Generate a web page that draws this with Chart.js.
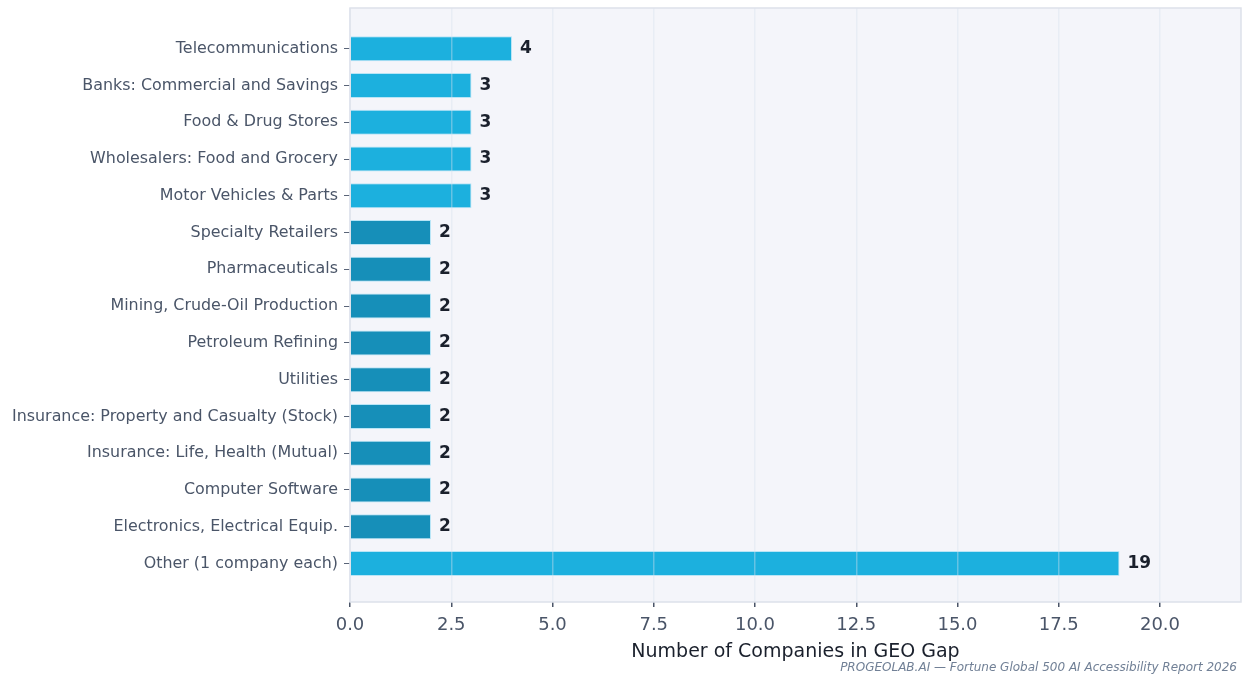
<!DOCTYPE html>
<html>
<head>
<meta charset="utf-8">
<script src="https://cdn.jsdelivr.net/npm/chart.js@4.4.1/dist/chart.umd.min.js"></script>
<style>
  html, body { margin: 0; padding: 0; background: #ffffff; }
</style>
</head>
<body>
<canvas id="gap-chart" width="1245" height="677"></canvas>
<script>
const industries = [
  'Telecommunications',
  'Banks: Commercial and Savings',
  'Food & Drug Stores',
  'Wholesalers: Food and Grocery',
  'Motor Vehicles & Parts',
  'Specialty Retailers',
  'Pharmaceuticals',
  'Mining, Crude-Oil Production',
  'Petroleum Refining',
  'Utilities',
  'Insurance: Property and Casualty (Stock)',
  'Insurance: Life, Health (Mutual)',
  'Computer Software',
  'Electronics, Electrical Equip.',
  'Other (1 company each)',
];
const gapCounts = [4, 3, 3, 3, 3, 2, 2, 2, 2, 2, 2, 2, 2, 2, 19];
const xTickValues = [0, 2.5, 5, 7.5, 10, 12.5, 15, 17.5, 20];

const BRIGHT = '#1cb0de';
const DARK = '#168fb9';
const FONT = "'DejaVu Sans', sans-serif";

const plotFrame = {
  id: 'plotFrame',
  beforeDraw(chart) {
    const { ctx, chartArea: a } = chart;
    ctx.save();
    ctx.fillStyle = '#ffffff';
    ctx.fillRect(0, 0, chart.width, chart.height);
    ctx.fillStyle = '#f4f5fa';
    ctx.fillRect(a.left, a.top, a.right - a.left, a.bottom - a.top);
    ctx.restore();
  },
  afterDraw(chart) {
    const { ctx, chartArea: a } = chart;
    ctx.save();
    ctx.strokeStyle = '#dde1ea';
    ctx.lineWidth = 1.5;
    ctx.strokeRect(a.left, a.top, a.right - a.left, a.bottom - a.top);
    // report footer
    ctx.fillStyle = '#718096';
    ctx.font = `italic 12px ${FONT}`;
    ctx.textAlign = 'right';
    ctx.textBaseline = 'alphabetic';
    ctx.fillText('PROGEOLAB.AI \u2014 Fortune Global 500 AI Accessibility Report 2026', 1237, 671);
    ctx.restore();
  },
};

const valueLabels = {
  id: 'valueLabels',
  afterDraw(chart) {
    const { ctx } = chart;
    const meta = chart.getDatasetMeta(0);
    ctx.save();
    ctx.fillStyle = '#1a202c';
    ctx.font = `bold 17px ${FONT}`;
    ctx.textAlign = 'left';
    ctx.textBaseline = 'middle';
    meta.data.forEach((bar, i) => {
      ctx.fillText(String(gapCounts[i]), bar.x + 8, bar.y);
    });
    ctx.restore();
  },
};

new Chart(document.getElementById('gap-chart'), {
  type: 'bar',
  data: {
    datasets: [
      {
        data: gapCounts.map((v, i) => ({ x: v, y: i })),
        backgroundColor: gapCounts.map((v) => (v > 2 ? BRIGHT : DARK)),
        borderColor: 'rgba(170, 225, 245, 0.8)',
        borderWidth: 1,
        barPercentage: 0.68,
        categoryPercentage: 1,
      },
    ],
  },
  options: {
    indexAxis: 'y',
    responsive: false,
    animation: false,
    devicePixelRatio: 1,
    layout: {
      padding: { top: 8, right: 4, left: 0, bottom: 0 },
    },
    plugins: {
      legend: { display: false },
      tooltip: { enabled: false },
    },
    scales: {
      x: {
        type: 'linear',
        min: 0,
        max: 22,
        afterFit: (scale) => { scale.height = 75; },
        afterBuildTicks: (scale) => {
          scale.ticks = xTickValues.map((value) => ({ value }));
        },
        border: { display: false },
        grid: {
          z: 1, // grid lines sit on top of the bars
          color: 'rgba(215, 226, 238, 0.4)',
          lineWidth: 1.5,
          tickColor: '#4a5568',
          tickLength: 5,
        },
        ticks: {
          color: '#4a5568',
          font: { family: FONT, size: 18 },
          padding: 8,
          maxRotation: 0,
          callback: (value) => Number(value).toFixed(1),
        },
        title: {
          display: true,
          text: 'Number of Companies in GEO Gap',
          color: '#1a202c',
          font: { family: FONT, size: 19 },
          padding: { top: 0, bottom: 14 },
        },
      },
      y: {
        type: 'linear',
        reverse: true,
        offset: false,
        min: -1.106,
        max: 15.046,
        afterFit: (scale) => {
          scale.width = 350;
          scale.paddingTop = 0;
          scale.paddingBottom = 0;
        },
        afterBuildTicks: (scale) => {
          scale.ticks = industries.map((_, i) => ({ value: i }));
        },
        border: { display: false },
        grid: {
          offset: false,
          drawOnChartArea: false,
          tickColor: '#5a6578',
          tickLength: 6,
        },
        ticks: {
          color: '#4a5568',
          font: { family: FONT, size: 15.9 },
          padding: 6,
          autoSkip: false,
          callback: (value) => industries[value] ?? '',
        },
      },
    },
  },
  plugins: [plotFrame, valueLabels],
});
</script>
</body>
</html>
